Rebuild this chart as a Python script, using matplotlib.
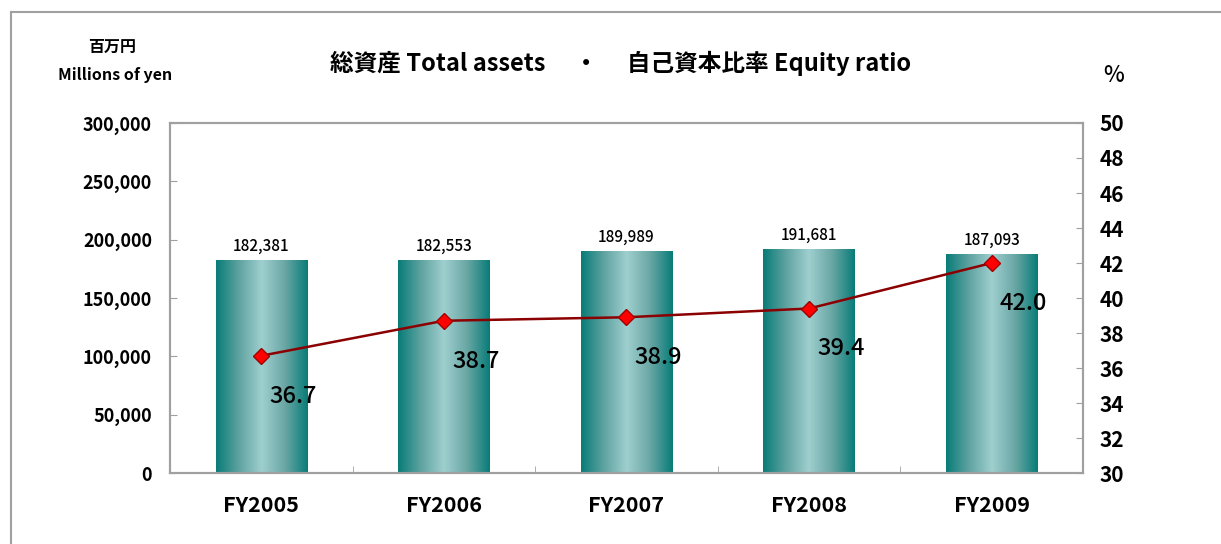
import matplotlib
matplotlib.use("Agg")
import matplotlib.pyplot as plt
import numpy as np
from matplotlib.colors import LinearSegmentedColormap
from matplotlib.lines import Line2D

plt.rcParams['font.family'] = ['Noto Sans CJK JP', 'DejaVu Sans']
plt.rcParams['font.weight'] = 'bold'

# data
years = ['FY2005', 'FY2006', 'FY2007', 'FY2008', 'FY2009']
total_assets = [182381, 182553, 189989, 191681, 187093]
equity_ratio = [36.7, 38.7, 38.9, 39.4, 42.0]
left_ticks = [0, 50000, 100000, 150000, 200000, 250000, 300000]
right_ticks = [30, 32, 34, 36, 38, 40, 42, 44, 46, 48, 50]

grey = '#a0a0a0'
teal = LinearSegmentedColormap.from_list('teal', ['#087c78', '#5fa3a1', '#9fcfcf', '#6aa7a5', '#087c78'])

fig = plt.figure(figsize=(12.21, 5.44), dpi=100)
ax1 = fig.add_axes([0.1392, 0.1305, 0.7478, 0.6434])
ax2 = ax1.twinx()

x = np.arange(len(years))
width = 0.5
grad = np.linspace(0, 1, 256).reshape(1, -1)
bars = ax1.bar(x, total_assets, width, color='none', edgecolor='none')
for b, v in zip(bars, total_assets):
    x0 = b.get_x()
    ax1.imshow(grad, cmap=teal, aspect='auto', extent=(x0, x0 + width, 0, v), zorder=2)
    ax1.annotate(f"{v:,}", (b.get_x() + width / 2, v), xytext=(0, 4), textcoords='offset points',
                 ha='center', va='bottom', fontsize=11, fontweight='medium')

ax1.set_xlim(-0.5, len(years) - 0.5)
ax1.set_ylim(0, 300000)
ax1.set_yticks(left_ticks)
ax1.set_yticklabels([f"{t:,}" for t in left_ticks])
ax1.set_xticks(x)
ax1.set_xticklabels(years)
ax1.set_xticks(np.arange(0.5, len(years) - 1, 1.0), minor=True)
ax1.tick_params(axis='x', which='major', length=0, pad=16, labelsize=15.5)
ax1.tick_params(axis='x', which='minor', direction='in', length=5, color=grey)
ax1.tick_params(axis='y', direction='in', length=5, color=grey, pad=13, labelsize=13)

ax2.plot(x, equity_ratio, color='#8b0000', lw=1.8, marker='D', markersize=8,
         markerfacecolor='#ff0000', markeredgecolor='#a00000', zorder=5)
for xi, r in zip(x, equity_ratio):
    ax2.annotate(f"{r:.1f}", (xi, r), xytext=(23, -29), textcoords='offset points',
                 ha='center', va='center', fontsize=17, fontweight='medium')
ax2.set_ylim(30, 50)
ax2.set_yticks(right_ticks)
ax2.tick_params(axis='y', direction='in', length=5, color=grey, pad=12, labelsize=15)

for a in (ax1, ax2):
    for s in a.spines.values():
        s.set_color(grey)
        s.set_linewidth(1.5)

fig.text(0.508, 0.884, "総資産 Total assets　 ・ 　自己資本比率 Equity ratio",
         ha='center', va='center', fontsize=17)
fig.text(0.092, 0.913, "百万円", ha='center', va='center', fontsize=11.5)
fig.text(0.094, 0.862, "Millions of yen", ha='center', va='center', fontsize=11.5)
fig.text(0.912, 0.862, "%", ha='center', va='center', fontsize=16, fontweight='medium')

# outer frame
fig.add_artist(Line2D([0.009, 0.009], [0.0, 0.978], color=grey, lw=1.5, transform=fig.transFigure))
fig.add_artist(Line2D([0.009, 1.0], [0.978, 0.978], color=grey, lw=1.5, transform=fig.transFigure))

fig.savefig("out.png", dpi=100)
